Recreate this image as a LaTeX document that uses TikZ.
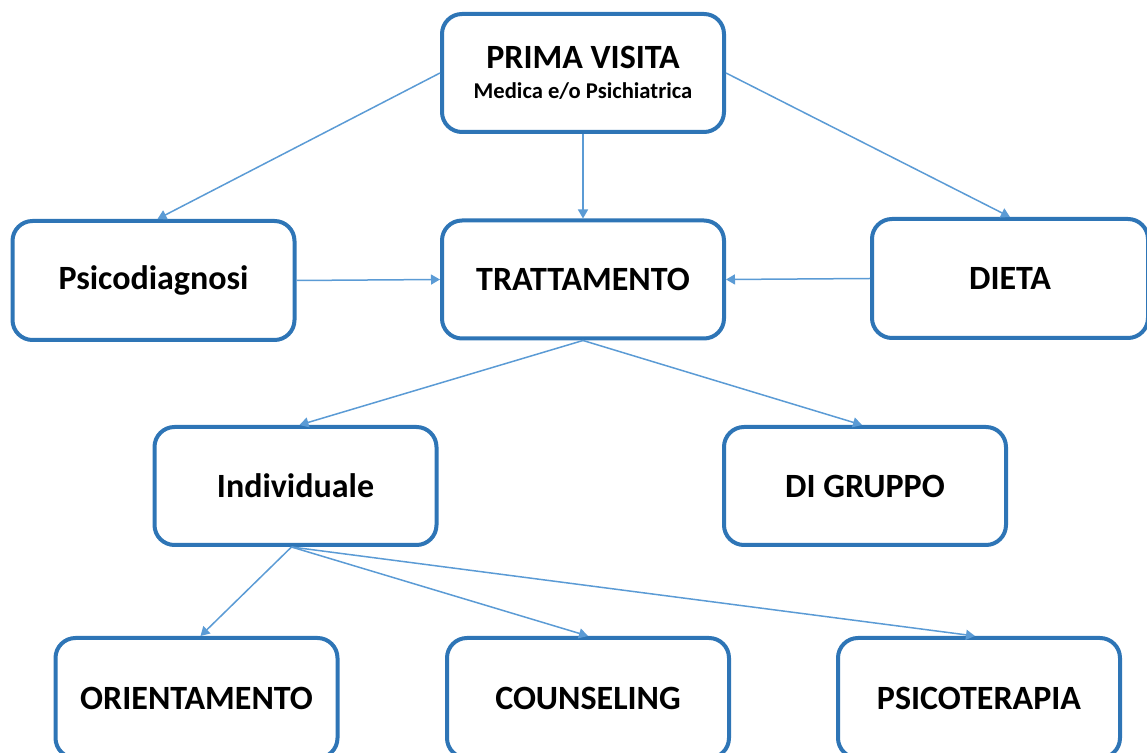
\documentclass[tikz,border=0pt]{standalone}
\usepackage{fontspec}
\setmainfont{Carlito}
\usepackage{xcolor}
\usetikzlibrary{positioning,arrows.meta,calc}

\definecolor{boxblue}{HTML}{2E75B6}
\definecolor{arrowblue}{HTML}{5B9BD5}

\begin{document}
\begin{tikzpicture}[x=0.5pt, y=-0.5pt,
  box/.style={draw=boxblue, line width=2pt, fill=white, rounded corners=10pt, minimum width=141pt, minimum height=59pt, align=center, font=\bfseries\fontsize{17}{20}\selectfont},
  link/.style={arrowblue, line width=0.75pt, -{Triangle[width=5pt,length=4.5pt]}}]

\clip (0,0) rectangle (1147,753);

% Nodes
\node[box] (visita) at (583,73) {PRIMA VISITA\\[-5pt]{\fontsize{11.3}{13}\selectfont Medica e/o Psichiatrica}};
\node[box, minimum height=59.5pt] (psico) at (153.5,280.5) {Psicodiagnosi};
\node[box] (tratt) at (583,279.5) {TRATTAMENTO};
\node[box, minimum width=138pt, minimum height=59.5pt] (dieta) at (1010,278.5) {DIETA};
\node[box] (indiv) at (295.5,486) {Individuale};
\node[box] (gruppo) at (865,486) {DI GRUPPO};
\node[box, minimum height=60pt] (orient) at (196.5,698) {ORIENTAMENTO};
\node[box, minimum height=60pt] (couns) at (588,698) {COUNSELING};
\node[box, minimum height=60pt] (psicot) at (979,698) {PSICOTERAPIA};

% Arrows
\draw[link] (visita.west) -- ($(psico.north)+(4,0)$);
\draw[link] (visita.south) -- (tratt.north);
\draw[link] (visita.east) -- (dieta.north);
\draw[link] (psico.east) -- (tratt.west);
\draw[link] (dieta.west) -- (tratt.east);
\draw[link] (tratt.south) -- ($(indiv.north)+(4,0)$);
\draw[link] (tratt.south) -- ($(gruppo.north)+(-3,0)$);
\draw[link] ($(indiv.south)+(-4,0)$) -- ($(orient.north)+(4,0)$);
\draw[link] ($(indiv.south)+(-4,0)$) -- (couns.north);
\draw[link] ($(indiv.south)+(-4,0)$) -- ($(psicot.north)+(-4,0)$);

\end{tikzpicture}
\end{document}
